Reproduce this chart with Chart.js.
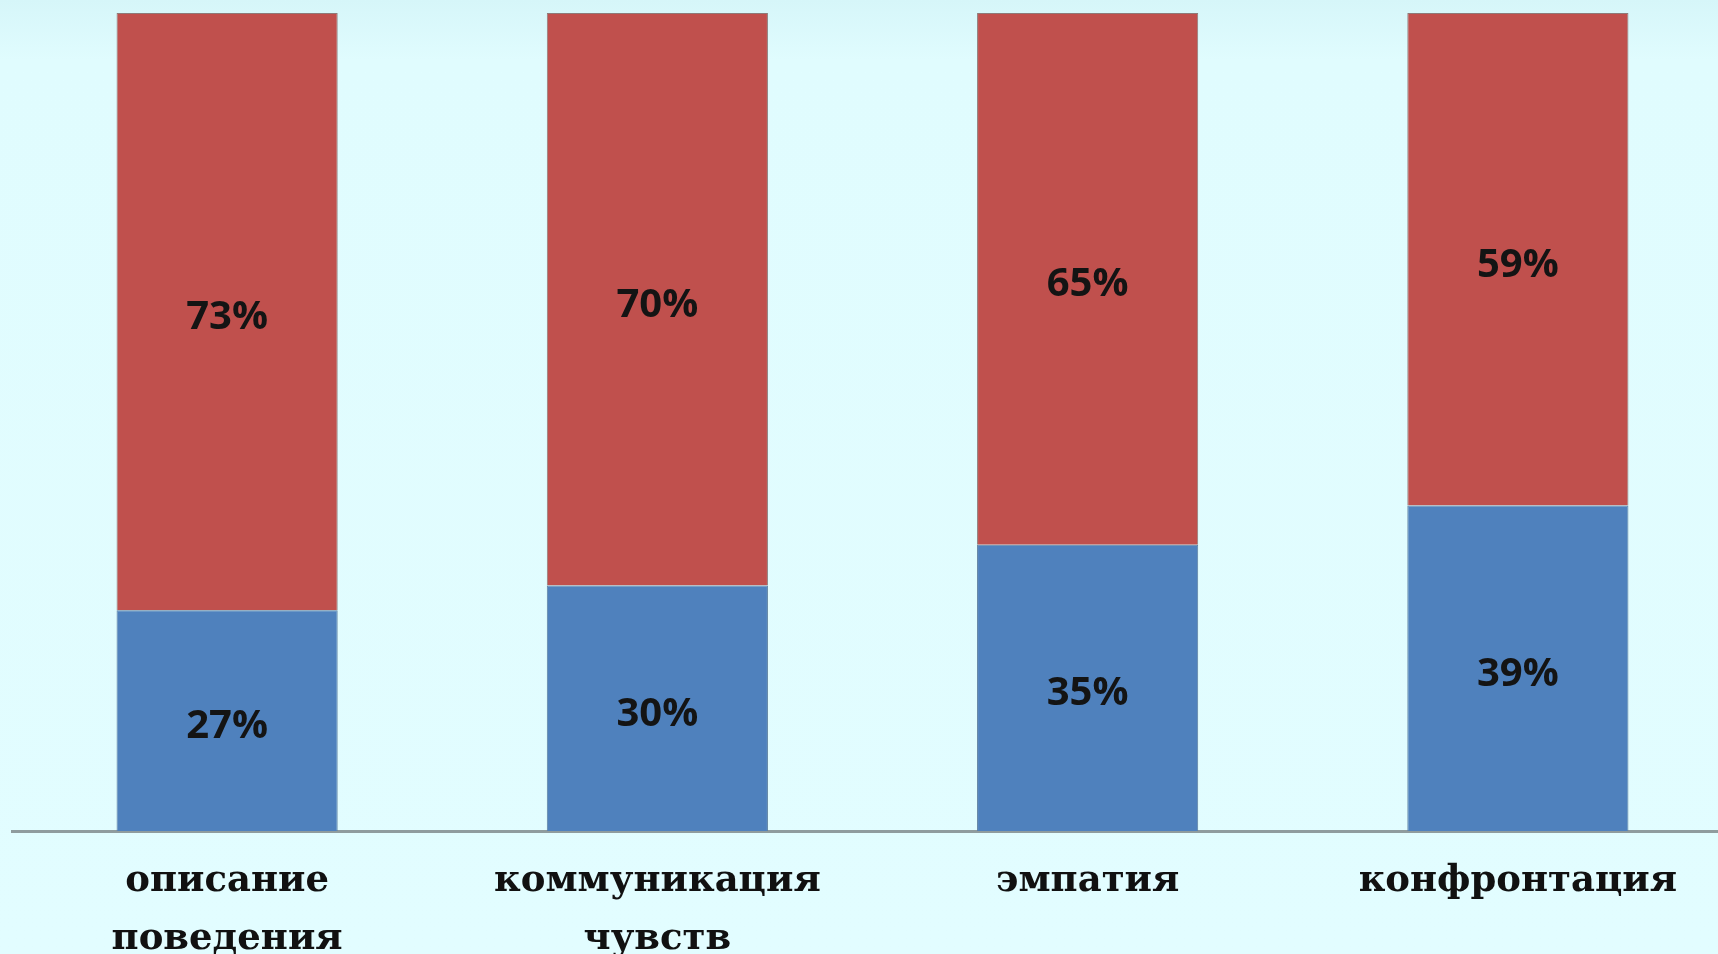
<!DOCTYPE html>
<html>
<head>
<meta charset="utf-8">
<script src="https://cdn.jsdelivr.net/npm/chart.js@4"></script>
<style>
  html, body { margin: 0; padding: 0; overflow: hidden; }
  body { background: linear-gradient(#d6f6f9 0px, #e0fcfe 60px, #e2fdff 100%); }
  #wrap { width: 1718px; height: 954px; overflow: hidden; }
  #wrap div { width: 1733px; height: 954px; }
</style>
</head>
<body>
<div id="wrap"><div><canvas id="chart"></canvas></div></div>
<script>
const categories = [['описание', 'поведения'], ['коммуникация', 'чувств'], 'эмпатия', 'конфронтация'];
const lowValues = [27, 30, 35, 39];
const highValues = [73, 70, 65, 59];

// 100% stacked: each column is scaled to its own total
const totals = lowValues.map((v, i) => v + highValues[i]);
const share = (arr) => arr.map((v, i) => v / totals[i] * 100);

// draws the percent in the middle of each segment
const segmentLabels = {
  id: 'segmentLabels',
  afterDatasetsDraw(chart) {
    const ctx = chart.ctx;
    ctx.save();
    ctx.font = 'bold 40px "Open Sans"';
    ctx.fillStyle = '#141414';
    ctx.textAlign = 'center';
    ctx.textBaseline = 'middle';
    chart.data.datasets.forEach((ds, i) => {
      chart.getDatasetMeta(i).data.forEach((bar, j) => {
        const y = (bar.y + bar.base) / 2 + 6;
        ctx.fillText(ds.raw[j] + '%', bar.x, y);
      });
    });
    ctx.restore();
  }
};

new Chart(document.getElementById('chart'), {
  type: 'bar',
  data: {
    labels: categories,
    datasets: [
      { data: share(lowValues), raw: lowValues, backgroundColor: '#4f81bd', borderColor: '#5d7f9f', borderWidth: 1, borderSkipped: 'bottom' },
      { data: share(highValues), raw: highValues, backgroundColor: '#c0504d', borderColor: '#8e7a78', borderWidth: { top: 1, left: 1, right: 1, bottom: 0 } }
    ]
  },
  options: {
    responsive: true,
    maintainAspectRatio: false,
    animation: false,
    events: [],
    layout: { padding: { left: 12, top: 13, right: 0, bottom: 0 } },
    datasets: { bar: { categoryPercentage: 1, barPercentage: 0.514 } },
    plugins: { legend: { display: false }, tooltip: { enabled: false } },
    scales: {
      x: {
        stacked: true,
        grid: { display: false },
        border: { display: true, color: '#8f9c9e', width: 3 },
        ticks: {
          color: '#111',
          padding: 14,
          maxRotation: 0,
          autoSkip: false,
          font: { family: '"DejaVu Serif"', weight: 'bold', size: 37, lineHeight: 1.55 }
        },
        afterFit(scale) { scale.height = 123; }
      },
      y: {
        stacked: true,
        display: false,
        min: 0,
        max: 100
      }
    }
  },
  plugins: [segmentLabels]
});
</script>
</body>
</html>
